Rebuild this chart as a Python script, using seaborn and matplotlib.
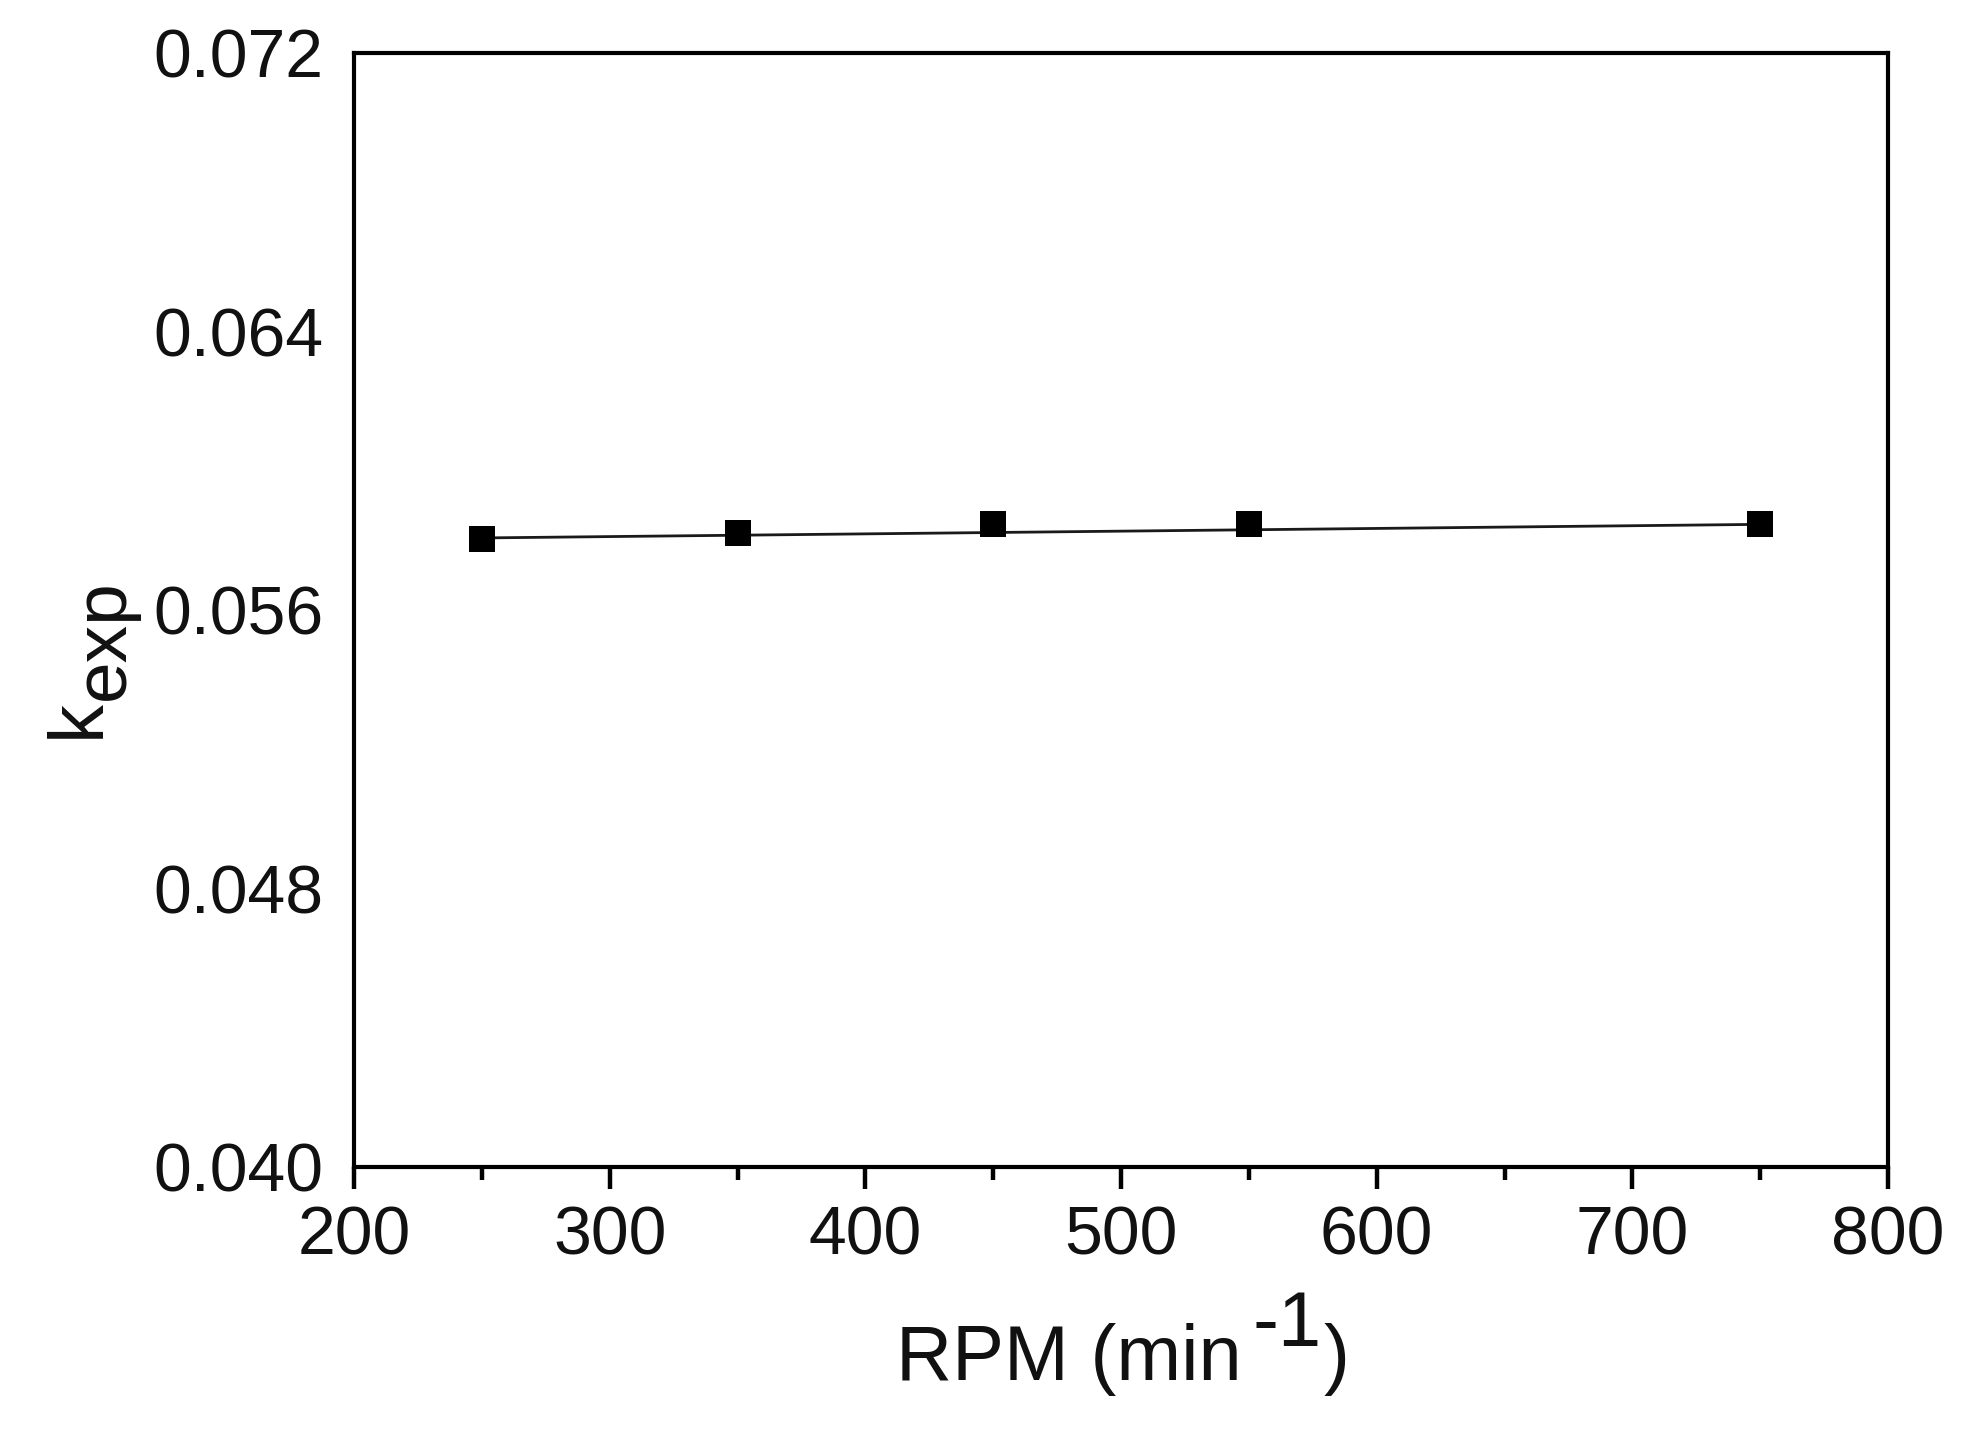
import matplotlib
matplotlib.use("Agg")
import matplotlib.pyplot as plt
import seaborn as sns
import pandas as pd
from matplotlib.ticker import MultipleLocator

# ---- data ----
rpm = [250, 350, 450, 550, 750]
kexp = [0.05803, 0.05822, 0.05846, 0.05846, 0.05846]
fit_rpm = [250, 750]
fit_k = [0.05807, 0.05846]
xticks = [200, 300, 400, 500, 600, 700, 800]
yticks = [0.040, 0.048, 0.056, 0.064, 0.072]
ytick_labels = ["0.040", "0.048", "0.056", "0.064", "0.072"]

sns.set_theme(style="white")
plt.rcParams["font.family"] = ["Liberation Sans", "DejaVu Sans"]

W, H = 1980, 1429
fig = plt.figure(figsize=(W / 100, H / 100), dpi=100)
ax = fig.add_axes([354 / W, 1 - 1167 / H, (1888 - 354) / W, (1167 - 53) / H])

pts = pd.DataFrame({"rpm": rpm, "kexp": kexp})
fit = pd.DataFrame({"rpm": fit_rpm, "kexp": fit_k})
sns.lineplot(data=fit, x="rpm", y="kexp", ax=ax, color="#1a1a1a", linewidth=2.0)
sns.scatterplot(data=pts, x="rpm", y="kexp", ax=ax, marker="s", s=330,
                color="black", edgecolor="black", linewidth=0, zorder=5)

ax.set_xlim(200, 800)
ax.set_ylim(0.040, 0.072)
ax.set_xticks(xticks)
ax.set_xticklabels([str(v) for v in xticks])
ax.xaxis.set_minor_locator(MultipleLocator(50))
ax.set_yticks(yticks)
ax.set_yticklabels(ytick_labels)
ax.set_xlabel("")
ax.set_ylabel("")

for s in ax.spines.values():
    s.set_visible(True)
    s.set_color("black")
    s.set_linewidth(3.0)

ax.tick_params(axis="x", which="major", direction="out", length=16, width=3.2,
               color="black", labelsize=49, pad=11, bottom=True, top=False)
ax.tick_params(axis="x", which="minor", direction="out", length=9, width=3.2,
               color="black", bottom=True, top=False)
ax.tick_params(axis="y", which="both", length=0, labelsize=49, pad=22,
               left=False, right=False)
for lab in ax.get_xticklabels() + ax.get_yticklabels():
    lab.set_color("#111111")

# x label: RPM (min^-1) with full-size raised superscript
fig.text(896 / W, 1 - 1380 / H, "RPM (min", fontsize=56, color="#111111",
         ha="left", va="baseline")
fig.text(1252 / W, 1 - 1346 / H, "-1", fontsize=56, color="#111111",
         ha="left", va="baseline")
fig.text(1323 / W, 1 - 1380 / H, ")", fontsize=56, color="#111111",
         ha="left", va="baseline")

# y label: k with "exp" lowered, rotated
fig.text(100 / W, 1 - 738 / H, "k", fontsize=56, color="#111111", rotation=90,
         rotation_mode="anchor", ha="left", va="baseline")
fig.text(124 / W, 1 - 700 / H, "exp", fontsize=54, color="#111111", rotation=90,
         rotation_mode="anchor", ha="left", va="baseline")

fig.savefig("out.png", dpi=100, facecolor="white")
